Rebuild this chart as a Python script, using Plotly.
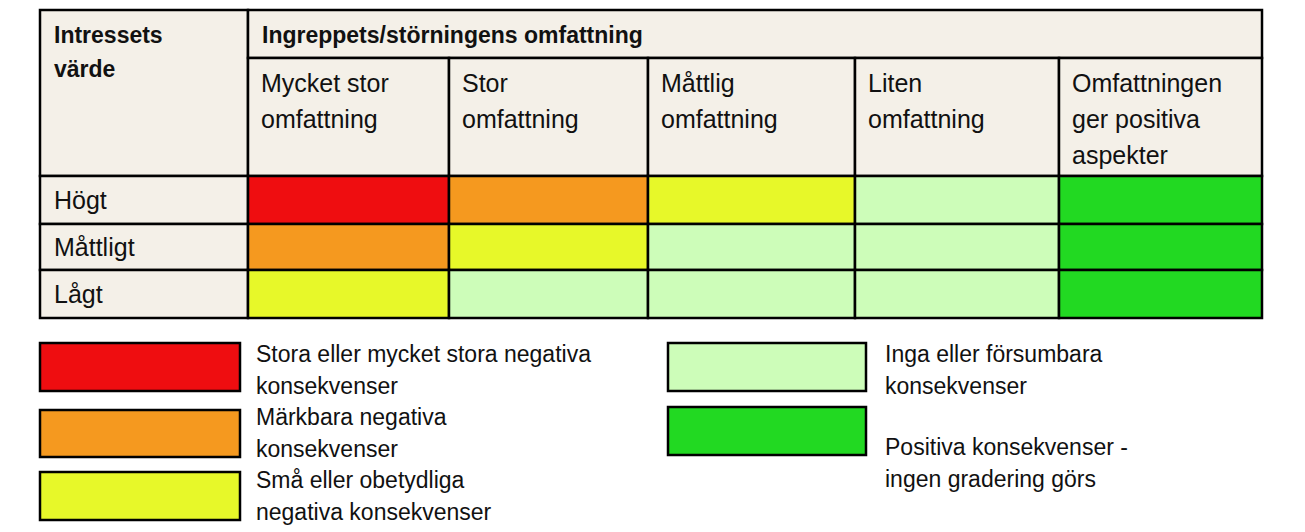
import plotly.graph_objects as go

row_labels = ["Högt", "Måttligt", "Lågt"]
col_labels = ["Mycket stor<br>omfattning", "Stor<br>omfattning", "Måttlig<br>omfattning",
              "Liten<br>omfattning", "Omfattningen<br>ger positiva<br>aspekter"]
# category index per cell (0=red,1=orange,2=yellow,3=light green,4=green)
matrix = [[0, 1, 2, 3, 4],
          [1, 2, 3, 3, 4],
          [2, 3, 3, 3, 4]]
cat_colors = ["#ef0d10", "#f5991f", "#e7f829", "#cdfdb9", "#22d922"]
legend_labels = ["Stora eller mycket stora negativa<br>konsekvenser",
                 "Märkbara negativa<br>konsekvenser",
                 "Små eller obetydliga<br>negativa konsekvenser",
                 "Inga eller försumbara<br>konsekvenser",
                 "Positiva konsekvenser -<br>ingen gradering görs"]

FONT = "Liberation Sans"
beige = "#f4f0e8"
col_x = [40, 248, 449, 648, 855, 1059, 1262]
row_y = [176, 224, 270, 318]
shapes, ann = [], []

def rect(x0, y0, x1, y1, fill, w=2.5):
    shapes.append(dict(type="rect", x0=x0, y0=y0, x1=x1, y1=y1, fillcolor=fill,
                       line=dict(color="black", width=w), layer="below"))

def text(x, y, s, size=24, bold=False, yanchor="top", lh=None):
    lines = s.split("<br>")
    lh = lh or size * 1.45
    for n, ln in enumerate(lines):
        ann.append(dict(x=x, y=y + n * lh, text=f"<b>{ln}</b>" if bold else ln, showarrow=False,
                        xanchor="left", yanchor=yanchor, align="left",
                        font=dict(family=FONT, size=size, color="#111")))

rect(40, 10, 248, 176, beige)
rect(248, 10, 1262, 58, beige)
text(52, 20, "Intressets<br>värde", 23, True, lh=34)
text(260, 20, "Ingreppets/störningens omfattning", 23, True)
for j, lab in enumerate(col_labels):
    rect(col_x[j+1], 58, col_x[j+2], 176, beige)
    text(col_x[j+1] + 11, 67, lab, 25, lh=36)
for i, lab in enumerate(row_labels):
    rect(40, row_y[i], 248, row_y[i+1], beige)
    text(52, (row_y[i] + row_y[i+1]) / 2, lab, 25, yanchor="middle")
    for j in range(5):
        rect(col_x[j+1], row_y[i], col_x[j+2], row_y[i+1], cat_colors[matrix[i][j]])

leg_pos = [(40, 343, 240, 391, 254, 339), (40, 410, 240, 457, 254, 402),
           (40, 472, 240, 520, 254, 465), (668, 343, 866, 391, 883, 339),
           (668, 407, 866, 455, 883, 432)]
for k, (x0, y0, x1, y1, tx, ty) in enumerate(leg_pos):
    rect(x0, y0, x1, y1, cat_colors[k], 2.5)
    text(tx, ty, legend_labels[k], 23, lh=32)

fig = go.Figure(go.Scatter(x=[0], y=[0], mode="markers", opacity=0, hoverinfo="skip"))
fig.update_layout(width=1305, height=532, margin=dict(l=0, r=0, t=0, b=0),
                  plot_bgcolor="white", paper_bgcolor="white", showlegend=False,
                  shapes=shapes, annotations=ann,
                  xaxis=dict(range=[8, 1313], visible=False),
                  yaxis=dict(range=[540, 8], visible=False))
fig.write_html("out.html")
